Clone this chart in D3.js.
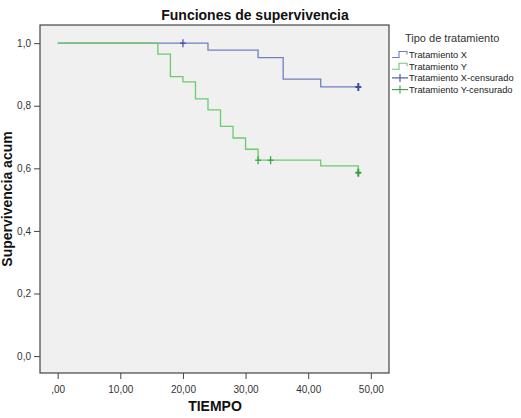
<!DOCTYPE html>
<html>
<head>
<meta charset="utf-8">
<script src="https://cdn.jsdelivr.net/npm/d3@7"></script>
<style>
  body { margin: 0; background: #fff; }
  text { font-family: "Liberation Sans", Arial, sans-serif; }
</style>
</head>
<body>
<div id="chart"></div>
<script>
// Kaplan-Meier curves
const tiemposX = [0, 24, 32, 36, 42, 48];
const survX    = [1.0, 0.978, 0.954, 0.885, 0.860, 0.860];
const censX    = [20, 48];

const tiemposY = [0, 16, 18, 20, 22, 24, 26, 28, 30, 32, 42, 48];
const survY    = [1.0, 0.965, 0.893, 0.876, 0.822, 0.787, 0.734, 0.697, 0.661, 0.626, 0.608, 0.586];
const censY    = [32, 34, 48];

const xTicks = [0, 10, 20, 30, 40, 50];
const yTicks = [0, 0.2, 0.4, 0.6, 0.8, 1.0];
const legendLabels = ["Tratamiento X", "Tratamiento Y", "Tratamiento X-censurado", "Tratamiento Y-censurado"];

const width = 521, height = 418;
const plot = { left: 40, right: 389, top: 25, bottom: 373 };

const svg = d3.select("#chart").append("svg")
    .attr("width", width)
    .attr("height", height);

const x = d3.scaleLinear().domain([-2.82, 52.9]).range([plot.left, plot.right]);
const y = d3.scaleLinear().domain([-0.054, 1.058]).range([plot.bottom, plot.top]);

// plot background
svg.append("rect")
    .attr("x", plot.left).attr("y", plot.top)
    .attr("width", plot.right - plot.left)
    .attr("height", plot.bottom - plot.top)
    .attr("fill", "#f0f0f0")
    .attr("stroke", "#444")
    .attr("stroke-width", 1.2);

// axes
const fmtX = d => d === 0 ? ",00" : d3.format(".2f")(d).replace(".", ",");
const fmtY = d => d3.format(".1f")(d).replace(".", ",");

const xAxis = svg.append("g")
    .attr("transform", `translate(0,${plot.bottom})`)
    .call(d3.axisBottom(x).tickValues(xTicks).tickFormat(fmtX).tickSize(6).tickSizeOuter(0));
const yAxis = svg.append("g")
    .attr("transform", `translate(${plot.left},0)`)
    .call(d3.axisLeft(y).tickValues(yTicks).tickFormat(fmtY).tickSize(6).tickSizeOuter(0));

[xAxis, yAxis].forEach(g => {
    g.select(".domain").remove();
    g.selectAll("line").attr("stroke", "#444");
    g.selectAll("text")
        .attr("fill", "#333")
        .style("font-size", "10px")
        .style("font-family", "'Liberation Sans', Arial, sans-serif");
});
xAxis.selectAll("text").attr("dy", "1.1em");

// step lines
const line = d3.line()
    .x(d => x(d[0]))
    .y(d => y(d[1]))
    .curve(d3.curveStepAfter);

const series = [
    { t: tiemposX, s: survX, cens: censX, color: "#6f80c0", mark: "#3c4d9c" },
    { t: tiemposY, s: survY, cens: censY, color: "#6ccb6c", mark: "#35a146" }
];

function survAt(t, times, surv) {
    const i = d3.bisectRight(times, t) - 1;
    return surv[Math.max(0, i)];
}

series.forEach(sr => {
    svg.append("path")
        .datum(sr.t.map((t, i) => [t, sr.s[i]]))
        .attr("d", line)
        .attr("fill", "none")
        .attr("stroke", sr.color)
        .attr("stroke-width", 1.3);
});

series.forEach(sr => {
    sr.cens.forEach(t => {
        const cx = x(t), cy = y(survAt(t, sr.t, sr.s));
        const last = t === 48;
        svg.append("line")
            .attr("x1", cx - 3).attr("x2", cx + 3)
            .attr("y1", cy).attr("y2", cy)
            .attr("stroke", sr.mark).attr("stroke-width", last ? 2 : 1.2);
        svg.append("line")
            .attr("x1", cx).attr("x2", cx)
            .attr("y1", cy - 4).attr("y2", cy + 4)
            .attr("stroke", sr.mark).attr("stroke-width", last ? 2 : 1.2);
    });
});

// titles
svg.append("text")
    .attr("x", 255).attr("y", 20)
    .attr("text-anchor", "middle")
    .style("font-size", "14px")
    .style("font-weight", "bold")
    .attr("fill", "#111")
    .text("Funciones de supervivencia");

svg.append("text")
    .attr("x", 215).attr("y", 411)
    .attr("text-anchor", "middle")
    .style("font-size", "14px")
    .style("font-weight", "bold")
    .attr("fill", "#111")
    .text("TIEMPO");

svg.append("text")
    .attr("transform", "translate(12,199) rotate(-90)")
    .attr("text-anchor", "middle")
    .style("font-size", "14px")
    .style("font-weight", "bold")
    .attr("fill", "#111")
    .text("Supervivencia acum");

// legend
const legend = svg.append("g");
legend.append("text")
    .attr("x", 405).attr("y", 42)
    .style("font-size", "11px")
    .attr("fill", "#333")
    .text("Tipo de tratamiento");

const legendColors = [series[0].color, series[1].color, series[0].mark, series[1].mark];
legendLabels.forEach((lab, i) => {
    const ly = 54.5 + i * 11.7;
    const c = legendColors[i];
    if (i < 2) {
        legend.append("path")
            .attr("d", `M392,${ly + 3}H399V${ly - 3}H407V${ly}`)
            .attr("fill", "none")
            .attr("stroke", c)
            .attr("stroke-width", 1.1);
    } else {
        legend.append("line")
            .attr("x1", 392).attr("x2", 408).attr("y1", ly).attr("y2", ly)
            .attr("stroke", c).attr("stroke-width", 1.1);
        legend.append("line")
            .attr("x1", 400).attr("x2", 400).attr("y1", ly - 4).attr("y2", ly + 4)
            .attr("stroke", c).attr("stroke-width", 1.1);
    }
    legend.append("text")
        .attr("x", 409).attr("y", ly + 3.5)
        .style("font-size", "9.3px")
        .attr("fill", "#222")
        .text(lab);
});
</script>
</body>
</html>
